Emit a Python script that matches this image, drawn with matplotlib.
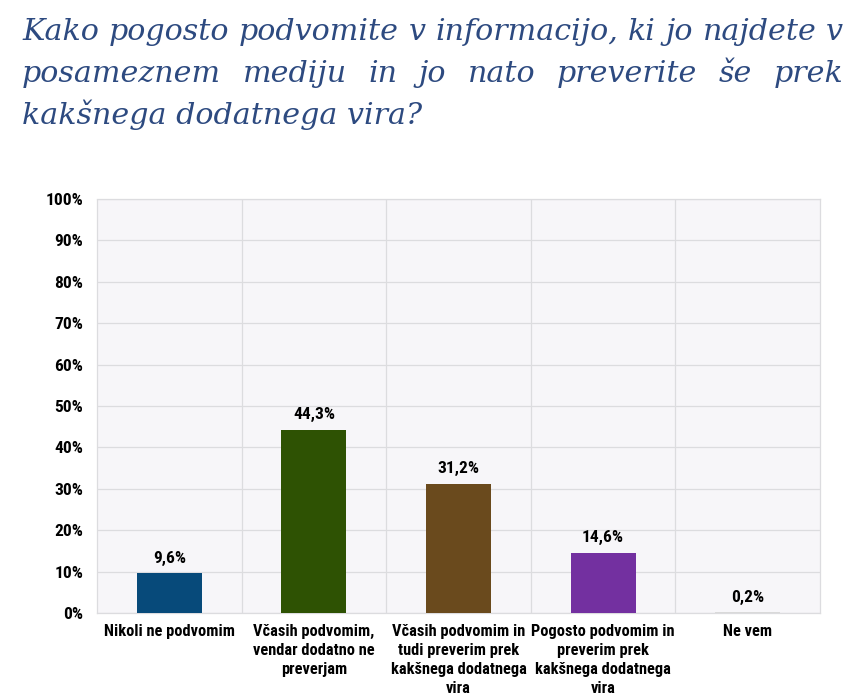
import matplotlib
matplotlib.use("Agg")
import matplotlib.pyplot as plt
from matplotlib import font_manager
from matplotlib.ticker import PercentFormatter

# Data
categories = [
    "Nikoli ne podvomim",
    "Včasih podvomim,\nvendar dodatno ne\npreverjam",
    "Včasih podvomim in\ntudi preverim prek\nkakšnega dodatnega\nvira",
    "Pogosto podvomim in\npreverim prek\nkakšnega dodatnega\nvira",
    "Ne vem",
]
values = [9.6, 44.3, 31.2, 14.6, 0.2]
value_labels = ["9,6%", "44,3%", "31,2%", "14,6%", "0,2%"]
bar_colors = ["#074a7a", "#2e5203", "#6a4a1d", "#7330a0", "#d9d9d9"]
yticks = [0, 10, 20, 30, 40, 50, 60, 70, 80, 90, 100]
title_lines = [
    "Kako pogosto podvomite v informacijo, ki jo najdete v",
    "posameznem mediju in jo nato preverite še prek",
    "kakšnega dodatnega vira?",
]

names = {f.name for f in font_manager.fontManager.ttflist}
narrow = [n for n in ["Liberation Sans Narrow", "Roboto Condensed", "Open Sans Condensed",
                      "DejaVu Sans Condensed"] if n in names]
label_font = narrow + ["DejaVu Sans"]
lab = dict(family=label_font, fontweight="bold", fontstretch="condensed")
title_color = "#2d4a80"

fig = plt.figure(figsize=(8.51, 6.99), dpi=100)
ax = fig.add_axes([97 / 851, 1 - 613 / 699, (820 - 97) / 851, (613 - 199) / 699])
ax.set_facecolor("#f7f6f9")

x = list(range(len(categories)))
ax.bar(x, values, width=0.45, color=bar_colors, zorder=3)
for xi, v, txt in zip(x, values, value_labels):
    ax.text(xi, v + 1.8, txt, ha="center", va="bottom", fontsize=12.5, zorder=4, **lab)

ax.set_xlim(-0.5, len(categories) - 0.5)
ax.set_ylim(0, 100)
ax.set_yticks(yticks)
ax.yaxis.set_major_formatter(PercentFormatter(decimals=0))
ax.set_xticks(x)
ax.set_xticklabels(categories, fontsize=11.8, linespacing=1.32, **lab)
for t in ax.get_yticklabels():
    t.set_family(label_font)
    t.set_fontweight("bold")
    t.set_fontstretch("condensed")
    t.set_fontsize(12.5)
ax.tick_params(length=0, pad=10)
ax.tick_params(axis="x", pad=8)

ax.grid(axis="y", color="#dcdcdf", linewidth=0.9, zorder=0)
for b in [i + 0.5 for i in x[:-1]]:
    ax.axvline(b, color="#dcdcdf", linewidth=0.9, zorder=0)
for s in ax.spines.values():
    s.set_color("#dcdcdf")
    s.set_linewidth(0.9)
ax.spines["left"].set_linestyle((0, (1, 1)))

# Title, justified like the original
left_px, right_px = 22, 843
baselines = [40, 82, 124]
renderer = fig.canvas.get_renderer()
tfont = dict(family=["DejaVu Serif"], style="italic", color=title_color)


def word_widths(words, size):
    out = []
    for w in words:
        t = fig.text(0, 0, w, fontsize=size, **tfont)
        out.append(t.get_window_extent(renderer).width)
        t.remove()
    return out


# pick a size so the first line fills the width with normal spacing
size = 18
t = fig.text(0, 0, title_lines[0], fontsize=size, **tfont)
w_full = t.get_window_extent(renderer).width
t.remove()
size = size * (right_px - left_px) / w_full

for i, (line, y) in enumerate(zip(title_lines, baselines)):
    yf = 1 - y / 699
    if i == len(title_lines) - 1:
        fig.text(left_px / 851, yf, line, ha="left", va="baseline", fontsize=size, **tfont)
        continue
    words = line.split(" ")
    widths = word_widths(words, size)
    gap = (right_px - left_px - sum(widths)) / (len(words) - 1)
    pos = left_px
    for w, wd in zip(words, widths):
        fig.text(pos / 851, yf, w, ha="left", va="baseline", fontsize=size, **tfont)
        pos += wd + gap

fig.savefig("out.png", dpi=100)
